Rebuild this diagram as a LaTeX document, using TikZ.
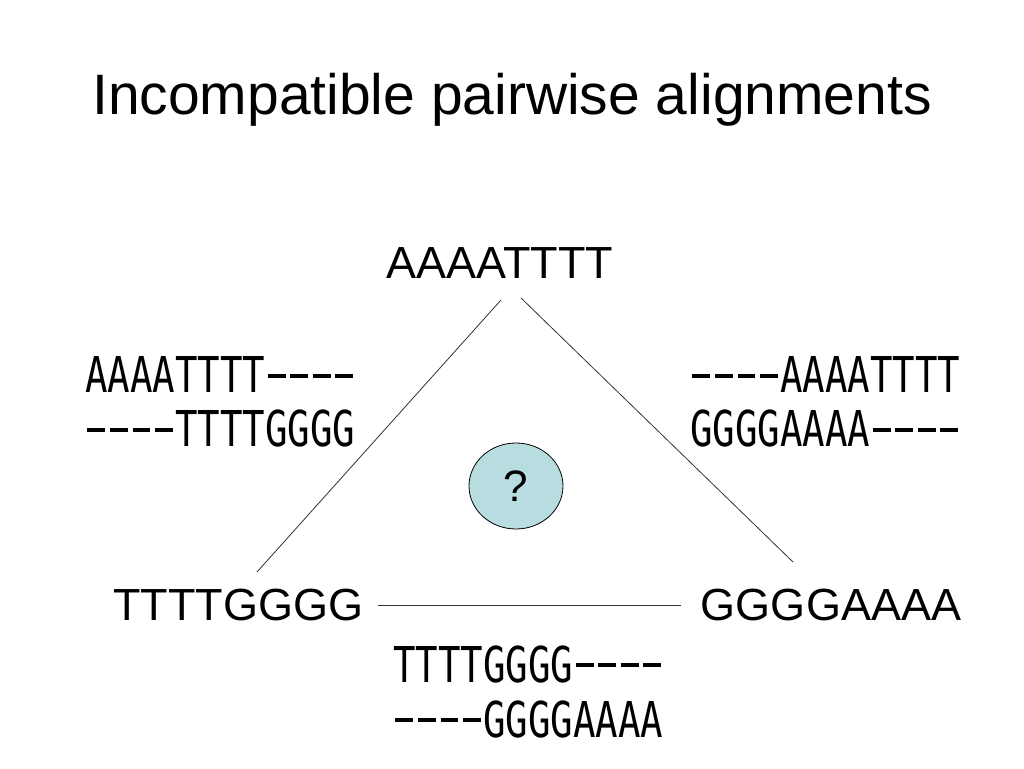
\documentclass[tikz,border=0pt]{standalone}
\usepackage{fontspec}
\setmainfont{Liberation Sans}
\newfontfamily\seqmono{DejaVu Sans Mono}
\usetikzlibrary{shapes.geometric}
\definecolor{qfill}{RGB}{183,221,224}
\tikzset{
  title/.style={font=\fontsize{57}{60}\selectfont, anchor=base, inner sep=0pt},
  seq/.style={font=\fontsize{45}{50}\selectfont, anchor=base, inner sep=0pt},
  aln/.style={anchor=base west, inner sep=0pt, align=left},
  edge/.style={line width=0.8pt, draw=black!80},
  qnode/.style={ellipse, draw=black, line width=0.8pt, fill=qfill, minimum width=94pt, minimum height=86pt, inner sep=0pt, font=\fontsize{44}{48}\selectfont}
}
\newcommand{\alnline}[1]{\scalebox{0.757}[1]{\seqmono\fontsize{49.4}{50}\selectfont #1}}
\newcommand{\gp}{\makebox[0.602em]{\rule[0.31em]{0.48em}{0.067em}}}
\newcommand{\gaps}{\gp\gp\gp\gp}
\begin{document}
\begin{tikzpicture}[x=1pt,y=1pt]
\useasboundingbox (0,0) rectangle (1024,768);
\node[title] (ttl) at (512,653) {Incompatible pairwise alignments};
\node[seq] (top) at (500,489) {AAAATTTT};
\node[seq] (left) at (238,147) {TTTTGGGG};
\node[seq] (right) at (831,147) {GGGGAAAA};
\node[aln] (al1) at (85,375) {\alnline{AAAATTTT\gaps}};
\node[aln] (al2) at (85,321) {\alnline{\gaps TTTTGGGG}};
\node[aln] (ar1) at (690,375) {\alnline{\gaps AAAATTTT}};
\node[aln] (ar2) at (690,321) {\alnline{GGGGAAAA\gaps}};
\node[aln] (ab1) at (393,86) {\alnline{TTTTGGGG\gaps}};
\node[aln] (ab2) at (393,31) {\alnline{\gaps GGGGAAAA}};
\node[qnode] (q) at (516,282) {?};
\coordinate (tl) at (501,468);
\coordinate (lt) at (257,196);
\coordinate (tr) at (521,470);
\coordinate (rt) at (793,206);
\coordinate (lr) at (378,163);
\coordinate (rl) at (681,163);
\draw[edge] (tl) -- (lt);
\draw[edge] (tr) -- (rt);
\draw[edge] (lr) -- (rl);
\end{tikzpicture}
\end{document}
